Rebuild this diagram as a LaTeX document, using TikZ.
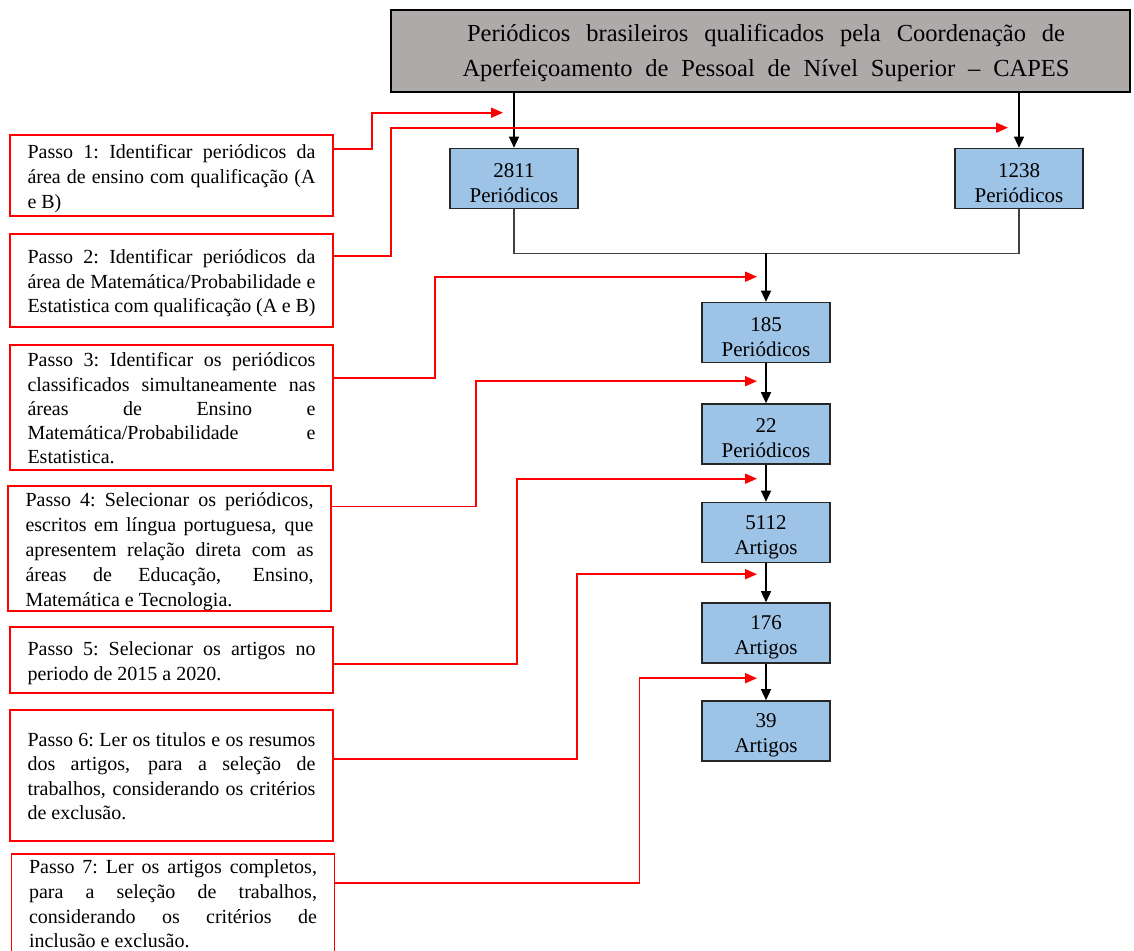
\documentclass[tikz,border=0pt]{standalone}
\usepackage{fontspec}
\setmainfont{Liberation Serif}
\usetikzlibrary{calc,arrows.meta}
\definecolor{topgray}{HTML}{AEAAAA}
\definecolor{boxblue}{HTML}{9DC3E6}
\newcommand{\mystrut}{\rule[-4.2pt]{0pt}{24pt}}
\newcommand{\jl}[1]{\leavevmode\hbox to 288pt{\spaceskip=.25em plus 1em minus .06em\xspaceskip=\spaceskip\mystrut #1}}
\newcommand{\lastl}[1]{\leavevmode\hbox{\spaceskip=.25em\xspaceskip=\spaceskip\mystrut #1}}
\newcommand{\tl}[2]{\leavevmode\hspace*{11pt}\hbox to #1pt{\spaceskip=.25em plus 1em minus .06em\xspaceskip=\spaceskip #2}}
\tikzset{
  topbox/.style={draw=black, line width=1.6pt, fill=topgray, minimum width=739pt, minimum height=82pt, inner sep=0pt, align=center, font=\fontsize{24.5}{35}\selectfont},
  bluebox/.style={draw=black!85, line width=1.6pt, fill=boxblue, minimum width=128pt, minimum height=60pt, inner sep=0pt, align=center, font=\fontsize{21}{25}\selectfont},
  stepbox/.style={draw=red, line width=1.8pt, fill=white, minimum width=323pt, text width=288pt, inner xsep=17pt, inner ysep=0pt, align=left, font=\fontsize{20}{24}\selectfont},
  blk/.style={draw=black, line width=1.4pt, -{Triangle[length=11pt,width=10pt]}},
  plainline/.style={draw=black!75, line width=1.4pt},
  redarr/.style={draw=red, line width=1.8pt, -{Triangle[length=12pt,width=10pt]}}
}
\newcommand{\bt}[2]{\rule{0pt}{23pt}#1\\#2}
\begin{document}
\begin{tikzpicture}[x=1pt,y=-1pt]
\useasboundingbox (0,0) rectangle (1134,950);

% top box
\node[topbox] (top) at (760.5,51) {\rule{0pt}{22pt}\tl{598}{Periódicos brasileiros qualificados pela Coordenação de}\\ \tl{607}{Aperfeiçoamento de Pessoal de Nível Superior – CAPES}};

% blue boxes
\node[bluebox] (b2811) at (514,178.5) {\bt{2811}{Periódicos}};
\node[bluebox] (b1238) at (1019,178.5) {\bt{1238}{Periódicos}};
\node[bluebox] (b185) at (766,332.5) {\bt{185}{Periódicos}};
\node[bluebox] (b22) at (766,434) {\bt{22}{Periódicos}};
\node[bluebox] (b5112) at (766,532.5) {\bt{5112}{Artigos}};
\node[bluebox] (b176) at (766,633) {\bt{176}{Artigos}};
\node[bluebox] (b39) at (766,731) {\bt{39}{Artigos}};

% step boxes
\node[stepbox, minimum height=81pt] (p1) at (171.5,175.5) {\jl{Passo 1: Identificar periódicos da}\\ \jl{área de ensino com qualificação (A}\\ \lastl{e B)}};
\node[stepbox, minimum height=93pt] (p2) at (171.5,280.5) {\jl{Passo 2: Identificar periódicos da}\\ \jl{área de Matemática/Probabilidade e}\\ \jl{Estatistica com qualificação (A e B)}};
\node[stepbox, minimum height=125pt] (p3) at (171.5,407.5) {\jl{Passo 3: Identificar os periódicos}\\ \jl{classificados simultaneamente nas}\\ \jl{áreas de Ensino e}\\ \jl{Matemática/Probabilidade e}\\ \lastl{Estatistica.}};
\node[stepbox, minimum height=123pt] (p4) at (169.5,548.5) {\jl{Passo 4: Selecionar os periódicos,}\\ \jl{escritos em língua portuguesa, que}\\ \jl{apresentem relação direta com as}\\ \jl{áreas de Educação, Ensino,}\\ \lastl{Matemática e Tecnologia.}};
\node[stepbox, minimum height=66pt] (p5) at (171.5,660) {\jl{Passo 5: Selecionar os artigos no}\\ \lastl{periodo de 2015 a 2020.}};
\node[stepbox, minimum height=131pt] (p6) at (171.5,775.5) {\jl{Passo 6: Ler os titulos e os resumos}\\ \jl{dos artigos, para a seleção de}\\ \jl{trabalhos, considerando os critérios}\\ \lastl{de exclusão.}};
\node[stepbox, minimum height=96pt] (p7) at (173,903) {\jl{Passo 7: Ler os artigos completos,}\\ \jl{para a seleção de trabalhos,}\\ \jl{considerando os critérios de}\\ \lastl{inclusão e exclusão.}};

% black connectors
\draw[blk] (b2811.north |- top.south) -- (b2811.north);
\draw[blk] (b1238.north |- top.south) -- (b1238.north);
\coordinate (m) at ($(b2811.south)+(0,44)$);
\draw[plainline] (b2811.south) -- (m) -| (b1238.south);
\draw[blk] (m -| b185.north) -- (b185.north);
\draw[blk] (b185.south) -- (b22.north);
\draw[blk] (b22.south) -- (b5112.north);
\draw[blk] (b5112.south) -- (b176.north);
\draw[blk] (b176.south) -- (b39.north);

% red arrow targets
\coordinate (t1) at ($(b2811.north)+(-11,-35)$);
\coordinate (t2) at ($(b1238.north)+(-11,-20)$);
\coordinate (t3) at ($(b185.north)+(-9,-25)$);
\coordinate (t4) at ($(b22.north)+(-9,-22)$);
\coordinate (t5) at ($(b5112.north)+(-9,-23)$);
\coordinate (t6) at ($(b176.north)+(-9,-28)$);
\coordinate (t7) at ($(b39.north)+(-9,-22)$);

% red connectors
\draw[redarr] ($(p1.north east)+(0,15)$) -- ++(38,0) |- (t1);
\draw[redarr] ($(p2.north east)+(0,23)$) -- ++(57,0) |- (t2);
\draw[redarr] ($(p3.north east)+(0,34)$) -- ++(101,0) |- (t3);
\draw[redarr] ($(p4.north east)+(0,21)$) -- ++(144,0) |- (t4);
\draw[redarr] ($(p5.north east)+(0,38)$) -- ++(183,0) |- (t5);
\draw[redarr] ($(p6.north east)+(0,50)$) -- ++(243,0) |- (t6);
\draw[redarr] ($(p7.north east)+(0,30)$) -- ++(304,0) |- (t7);
\end{tikzpicture}
\end{document}
